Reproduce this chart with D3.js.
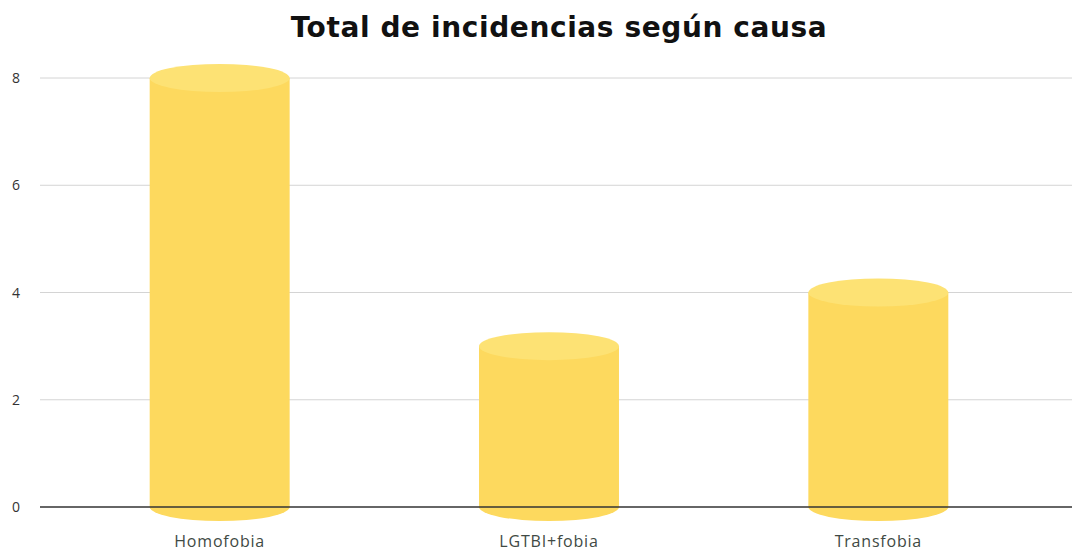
<!DOCTYPE html>
<html>
<script src='https://d3js.org/d3.v7.min.js'></script>
<style>
 body {margin:0; background:#fff;}
 text {font-family: 'Open Sans', sans-serif;}
</style>
<body>
<svg width=1072 height=551></svg>
<script>

var causas = ['Homofobia', 'LGTBI+fobia', 'Transfobia'];
var totales = [8, 3, 4];
var yTicks = [0, 2, 4, 6, 8];

var svg = d3.select('svg');

// scales
var x = d3.scaleBand().domain(causas).range([55, 1043])
  .paddingInner(0.575).paddingOuter(0.2875);
var y = d3.scaleLinear().domain([0, 8]).range([507, 78]);

svg.append('text')
  .attr('x', 559).attr('y', 37)
  .attr('text-anchor', 'middle')
  .style('font-family', 'DejaVu Sans, sans-serif')
  .style('font-weight', 700)
  .style('font-size', '28px')
  .style('letter-spacing', '0.6px')
  .style('fill', '#111')
  .text('Total de incidencias según causa');

// grid
svg.append('g')
  .selectAll('line')
  .data(yTicks.filter(function (d) { return d > 0; }))
  .enter()
   .append('line')
    .attr('x1', 40).attr('x2', 1072)
    .attr('y1', function (d) { return y(d); })
    .attr('y2', function (d) { return y(d); })
    .style('stroke', '#d4d4d4').style('stroke-width', 1);

svg.append('g')
  .selectAll('text')
  .data(yTicks)
  .enter()
   .append('text')
    .attr('x', 20)
    .attr('y', function (d) { return y(d) + 5; })
    .attr('text-anchor', 'end')
    .style('font-size', '14px')
    .style('fill', '#333')
    .text(function (d) { return d; });

var ry = 14;
var bars = svg.append('g')
  .selectAll('g')
  .data(causas)
  .enter()
   .append('g');

// body + bottom half ellipse
bars.append('path')
  .attr('d', function (d, i) {
    var x0 = x(d), w = x.bandwidth(), top = y(totales[i]), bot = y(0);
    return 'M' + x0 + ',' + top + 'L' + x0 + ',' + bot +
      'A' + (w / 2) + ',' + ry + ' 0 0 0 ' + (x0 + w) + ',' + bot +
      'L' + (x0 + w) + ',' + top + 'Z';
  })
  .style('fill', '#fdd95e');

bars.append('ellipse')
  .attr('cx', function (d) { return x(d) + x.bandwidth() / 2; })
  .attr('cy', function (d, i) { return y(totales[i]); })
  .attr('rx', x.bandwidth() / 2)
  .attr('ry', ry)
  .style('fill', '#fde274');

// baseline drawn over the bars
svg.append('line')
  .attr('x1', 40).attr('x2', 1072)
  .attr('y1', y(0)).attr('y2', y(0))
  .style('stroke', '#333').style('stroke-width', 1.3);

svg.append('g')
  .selectAll('text')
  .data(causas)
  .enter()
   .append('text')
    .attr('x', function (d) { return x(d) + x.bandwidth() / 2; })
    .attr('y', 547)
    .attr('text-anchor', 'middle')
    .style('font-size', '16px')
    .style('letter-spacing', '0.8px')
    .style('fill', '#3f4a44')
    .text(function (d) { return d; });

</script>
</body>
</html>
